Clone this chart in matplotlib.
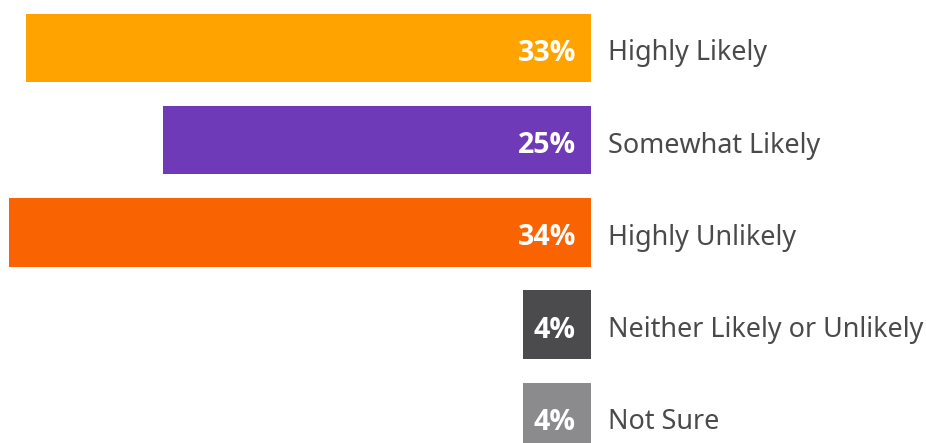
import matplotlib.pyplot as plt

categories = ['Highly Likely', 'Somewhat Likely', 'Highly Unlikely',
              'Neither Likely or Unlikely', 'Not Sure']
values = [33, 25, 34, 4, 4]
colors = ['#FFA300', '#6E3AB7', '#F96302', '#4B4B4D', '#8B8B8D']

plt.rcParams['font.family'] = ['Noto Sans', 'DejaVu Sans']

fig = plt.figure(figsize=(9.26, 4.43), dpi=100)
# axes spans from left edge to the bars' common right end
ax = fig.add_axes([0, 0, 591 / 926, 1])

ypos = list(range(len(values)))
ax.barh(ypos, values, height=0.742, color=colors)

ax.set_xlim(34.53, 0)
ax.set_ylim((443 - 47.8) / 92.25, -47.8 / 92.25)
ax.axis('off')

for y, v, cat in zip(ypos, values, categories):
    ax.annotate(f'{v}%', (0, y), xytext=(-15, -2), textcoords='offset pixels',
                ha='right', va='center_baseline', color='white', fontsize=20.5,
                fontweight='bold', family=['Open Sans', 'DejaVu Sans'])
    ax.annotate(cat, (0, y), xytext=(17, -2), textcoords='offset pixels',
                ha='left', va='center_baseline', color='#4A4A4C', fontsize=19.4)

fig.savefig('out.png', dpi=100)
